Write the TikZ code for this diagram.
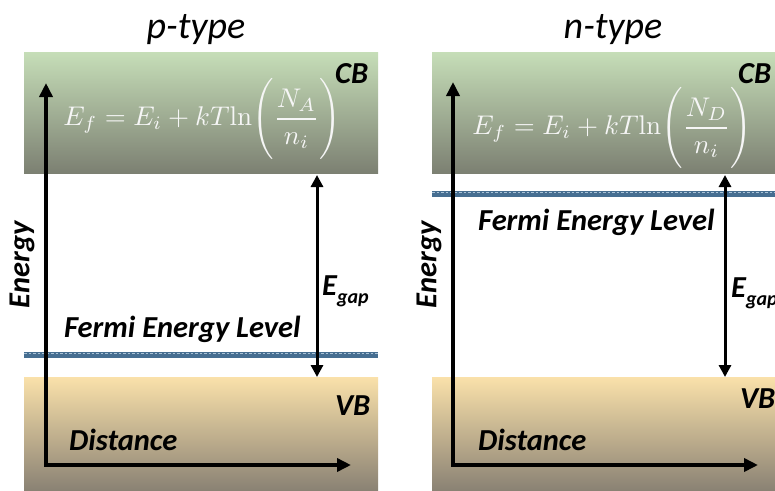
\documentclass[tikz,border=0pt]{standalone}
\usepackage{amsmath}
\usepackage[no-math]{fontspec}
\setmainfont{Carlito}
\usetikzlibrary{arrows.meta}
\definecolor{cbtop}{RGB}{198,222,184}
\definecolor{cbbot}{RGB}{124,128,114}
\definecolor{vbtop}{RGB}{250,225,170}
\definecolor{vbbot}{RGB}{138,130,116}
\definecolor{fermidark}{RGB}{70,110,145}
\definecolor{fermilight}{RGB}{170,195,215}
\definecolor{formulagray}{RGB}{246,246,246}
\tikzset{
  cbband/.style={top color=cbtop, bottom color=cbbot, draw=none},
  vbband/.style={top color=vbtop, bottom color=vbbot, draw=none},
  fermiline/.style={line width=5.5pt, fermidark},
  fermidots/.style={line width=1.2pt, fermilight, dash pattern=on 2.5pt off 2pt},
  axisline/.style={line width=3.5pt, black, {Triangle[length=14pt,width=13pt]}-{Triangle[length=14pt,width=13pt]}},
  gapline/.style={line width=3pt, black, {Triangle[length=12pt,width=12pt]}-{Triangle[length=12pt,width=12pt]}},
  lbl/.style={font=\fontsize{30.5}{36}\selectfont\bfseries\itshape, inner sep=0pt},
  ttl/.style={font=\fontsize{38}{44}\selectfont\itshape, inner sep=0pt},
  formula/.style={text=formulagray, inner sep=0pt, scale=2.7}
}
\begin{document}
\begin{tikzpicture}[x=1pt,y=-1pt]
\useasboundingbox (0,0) rectangle (775,490);
\fill[white] (0,0) rectangle (775,490);

% ---------- p-type ----------
\shade[cbband] (24,52) rectangle (378,173);
\shade[vbband] (24,377) rectangle (378,490);
\draw[fermiline] (24,355) -- (378,355);
\draw[fermidots] (24,353.5) -- (378,353.5);

\coordinate (pYtop) at (46,83);
\coordinate (pCorner) at (46,465);
\coordinate (pXend) at (351,465);
\draw[axisline] (pYtop) |- (pXend);
\coordinate (pGapTop) at (317,175);
\coordinate (pGapBot) at (317,377);
\draw[gapline] (pGapTop) -- (pGapBot);

\node[ttl, anchor=base] (ptitle) at (196,38) {p-type};
\node[lbl, anchor=base west] (pCB) at (335,83) {CB};
\node[lbl, anchor=base west] (pVB) at (335,415) {VB};
\node[lbl, anchor=base west] (pFermi) at (64,337) {Fermi Energy Level};
\node[lbl, anchor=base west] (pDist) at (69,450) {Distance};
\node[lbl, anchor=base west] (pGap) at (322,295) {E\raisebox{-0.28em}{\fontsize{20}{24}\selectfont gap}};
\node[lbl, rotate=90] (pEnergy) at (22,265) {Energy};
\node[formula] (pForm) at (202,119) {$E_f = E_i + kT\mathrm{ln}\Biggl(\dfrac{N_A}{n_i}\Biggr)$};

% ---------- n-type ----------
\shade[cbband] (432,52) rectangle (775,173);
\shade[vbband] (432,377) rectangle (775,490);
\draw[fermiline] (432,194) -- (775,194);
\draw[fermidots] (432,192.5) -- (775,192.5);

\coordinate (nYtop) at (453,82);
\coordinate (nCorner) at (453,465);
\coordinate (nXend) at (758,465);
\draw[axisline] (nYtop) |- (nXend);
\coordinate (nGapTop) at (725,175);
\coordinate (nGapBot) at (725,377);
\draw[gapline] (nGapTop) -- (nGapBot);

\node[ttl, anchor=base] (ntitle) at (613,38) {n-type};
\node[lbl, anchor=base west] (nCB) at (738,83) {CB};
\node[lbl, anchor=base west] (nVB) at (740,408) {VB};
\node[lbl, anchor=base west] (nFermi) at (478,230) {Fermi Energy Level};
\node[lbl, anchor=base west] (nDist) at (478,450) {Distance};
\node[lbl, anchor=base west] (nGap) at (731,297) {E\raisebox{-0.28em}{\fontsize{20}{24}\selectfont gap}};
\node[lbl, rotate=90] (nEnergy) at (429,265) {Energy};
\node[formula] (nForm) at (612,128) {$E_f = E_i + kT\mathrm{ln}\Biggl(\dfrac{N_D}{n_i}\Biggr)$};
\end{tikzpicture}
\end{document}
